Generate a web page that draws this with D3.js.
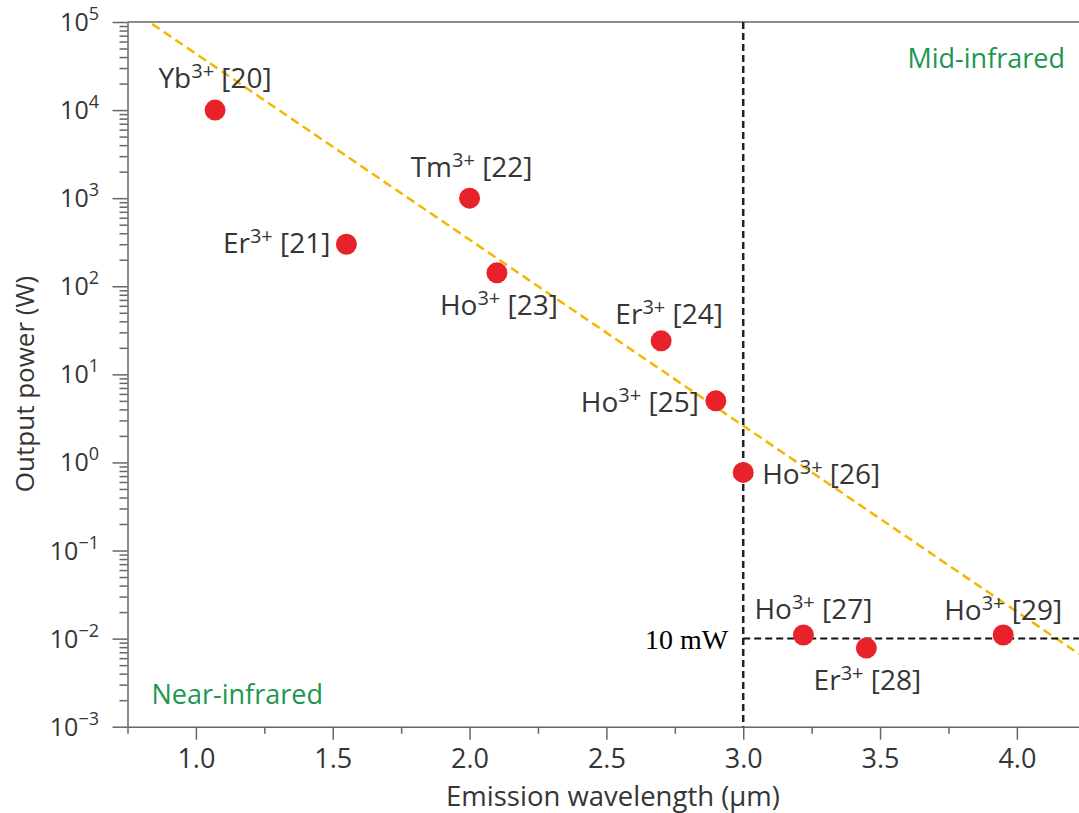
<!DOCTYPE html>
<html>
<head>
<meta charset="utf-8">
<script src="https://cdn.jsdelivr.net/npm/d3@7"></script>
<style>
  body { margin: 0; background: #fff; }
  svg { display: block; font-family: "Open Sans", "Noto Sans", sans-serif; }
</style>
</head>
<body>
<svg width="1079" height="813"></svg>
<script>
// data
var wavelengths = [1.07, 1.55, 2.0, 2.1, 2.7, 2.9, 3.0, 3.22, 3.45, 3.95];
var powers = [10000, 300, 1000, 142, 24, 5, 0.77, 0.011, 0.0078, 0.011];
var ions = ["Yb", "Er", "Tm", "Ho", "Er", "Ho", "Ho", "Ho", "Er", "Ho"];
var refs = [20, 21, 22, 23, 24, 25, 26, 27, 28, 29];
var trendWavelengths = [0.84, 4.227];
var trendPowers = [95000, 0.0067];
var boundaryWavelength = 3.0;
var thresholdPower = 0.01;
var thresholdLabel = "10 mW";
var xMajorTicks = [1.0, 1.5, 2.0, 2.5, 3.0, 3.5, 4.0];
var xMinorTicks = [0.75, 1.25, 1.75, 2.25, 2.75, 3.25, 3.75];
var yExponents = [-3, -2, -1, 0, 1, 2, 3, 4, 5];
var regionNames = ["Near-infrared", "Mid-infrared"];

// where each point label sits relative to its dot (layout only)
var labelLayout = [
  { dx: 0, dy: -22, anchor: "middle" },
  { dx: -16, dy: 9, anchor: "end" },
  { dx: 2, dy: -21, anchor: "middle" },
  { dx: 2, dy: 42, anchor: "middle" },
  { dx: 8, dy: -17, anchor: "middle" },
  { dx: -17, dy: 11, anchor: "end" },
  { dx: 19, dy: 12, anchor: "start" },
  { dx: 10, dy: -16, anchor: "middle" },
  { dx: 1, dy: 42, anchor: "middle" },
  { dx: 0, dy: -15, anchor: "middle" }
];

var points = wavelengths.map(function (w, i) {
  return { x: w, y: powers[i], ion: ions[i], ref: refs[i], lay: labelLayout[i] };
});

var svg = d3.select("svg");
var chartW = 1079;
var plotLeft = 127.5, plotTop = 22, plotBottom = 726.7;

var xScale = d3.scaleLinear().domain([0.75, 4.227]).range([plotLeft, chartW]);
var yScale = d3.scaleLog().domain([1e-3, 1e5]).range([plotBottom, plotTop]);

var textColor = "#353535";
var axisColor = "#666";

// top frame line
svg.append("line")
  .attr("x1", plotLeft).attr("x2", chartW)
  .attr("y1", plotTop).attr("y2", plotTop)
  .attr("stroke", axisColor).attr("stroke-width", 1.5);

// x axis: minor ticks then major ticks with labels
var gx = svg.append("g").attr("transform", "translate(0," + plotBottom + ")");
gx.append("g")
  .call(d3.axisBottom(xScale).tickValues(xMinorTicks).tickSize(7).tickFormat(""))
  .call(function (g) { g.select(".domain").remove(); });
gx.append("g")
  .call(d3.axisBottom(xScale).tickValues(xMajorTicks).tickSize(13).tickSizeOuter(0).tickPadding(9)
    .tickFormat(d3.format(".1f")));
gx.selectAll(".domain").attr("stroke", axisColor).attr("stroke-width", 1.5);
gx.selectAll(".tick line").attr("stroke", axisColor).attr("stroke-width", 1.5);
gx.selectAll(".tick text")
  .attr("font-size", 27).attr("fill", textColor)
  .attr("font-family", "Open Sans, sans-serif");

// y axis: minor ticks 2..9 x 10^k
var yMinor = [];
yExponents.slice(0, -1).forEach(function (e) {
  for (var m = 2; m <= 9; m++) yMinor.push(m * Math.pow(10, e));
});
var gy = svg.append("g").attr("transform", "translate(" + plotLeft + ",0)");
gy.append("g")
  .call(d3.axisLeft(yScale).tickValues(yMinor).tickSize(8).tickFormat(""))
  .call(function (g) { g.select(".domain").remove(); });
gy.append("g")
  .call(d3.axisLeft(yScale).tickValues(yExponents.map(function (e) { return Math.pow(10, e); }))
    .tickSize(15).tickSizeOuter(0).tickFormat(""));
gy.selectAll(".domain").attr("stroke", axisColor).attr("stroke-width", 1.5);
gy.selectAll(".tick line").attr("stroke", axisColor).attr("stroke-width", 1.5);

// y tick labels with superscript exponents
var yLab = svg.append("g").selectAll("text")
  .data(yExponents)
  .join("text")
  .attr("x", 99)
  .attr("y", function (e) { return yScale(Math.pow(10, e)) + 9; })
  .attr("text-anchor", "end")
  .attr("font-size", 25)
  .attr("fill", textColor);
yLab.append("tspan").text("10");
yLab.append("tspan")
  .attr("dy", -11).attr("font-size", 18)
  .text(function (e) { return e < 0 ? "\u2212" + (-e) : e; });

// axis titles
svg.append("text")
  .attr("x", 613).attr("y", 806)
  .attr("text-anchor", "middle")
  .attr("font-size", 27.5).attr("fill", textColor)
  .text("Emission wavelength (\u03bcm)");
svg.append("text")
  .attr("transform", "translate(34," + 384 + ") rotate(-90)")
  .attr("text-anchor", "middle")
  .attr("font-size", 26).attr("fill", textColor)
  .text("Output power (W)");

// trend line
var trend = trendWavelengths.map(function (w, i) { return { x: w, y: trendPowers[i] }; });
svg.append("path")
  .datum(trend)
  .attr("fill", "none")
  .attr("stroke", "#f7b500")
  .attr("stroke-width", 2.5)
  .attr("stroke-dasharray", "9,5")
  .attr("d", d3.line()
    .x(function (d) { return xScale(d.x); })
    .y(function (d) { return yScale(d.y); }));

// boundary between near and mid infrared
svg.append("line")
  .attr("x1", xScale(boundaryWavelength)).attr("x2", xScale(boundaryWavelength))
  .attr("y1", plotTop).attr("y2", plotBottom)
  .attr("stroke", "#222").attr("stroke-width", 2.5)
  .attr("stroke-dasharray", "7,4");

// 10 mW threshold
svg.append("line")
  .attr("x1", xScale(boundaryWavelength)).attr("x2", chartW)
  .attr("y1", yScale(thresholdPower)).attr("y2", yScale(thresholdPower))
  .attr("stroke", "#111").attr("stroke-width", 2)
  .attr("stroke-dasharray", "7,4");
svg.append("text")
  .attr("x", xScale(boundaryWavelength) - 15)
  .attr("y", yScale(thresholdPower) + 10)
  .attr("text-anchor", "end")
  .attr("font-family", "Liberation Serif, Times New Roman, serif")
  .attr("font-size", 28).attr("fill", "#000")
  .text(thresholdLabel);

// region names
svg.append("text")
  .attr("x", plotLeft + 24).attr("y", plotBottom - 23)
  .attr("font-size", 27).attr("fill", "#1e9650")
  .text(regionNames[0]);
svg.append("text")
  .attr("x", chartW - 14).attr("y", plotTop + 46)
  .attr("text-anchor", "end")
  .attr("font-size", 27).attr("fill", "#1e9650")
  .text(regionNames[1]);

// data points
svg.append("g").selectAll("circle")
  .data(points)
  .join("circle")
  .attr("cx", function (d) { return xScale(d.x); })
  .attr("cy", function (d) { return yScale(d.y); })
  .attr("r", 10.5)
  .attr("fill", "#e8222a");

// point labels
var lab = svg.append("g").selectAll("text")
  .data(points)
  .join("text")
  .attr("x", function (d) { return xScale(d.x) + d.lay.dx; })
  .attr("y", function (d) { return yScale(d.y) + d.lay.dy; })
  .attr("text-anchor", function (d) { return d.lay.anchor; })
  .attr("font-size", 28)
  .attr("fill", textColor);
lab.append("tspan").text(function (d) { return d.ion; });
lab.append("tspan").attr("dy", -10).attr("font-size", 20).text("3+");
lab.append("tspan").attr("dy", 10).text(function (d) { return " [" + d.ref + "]"; });
</script>
</body>
</html>
